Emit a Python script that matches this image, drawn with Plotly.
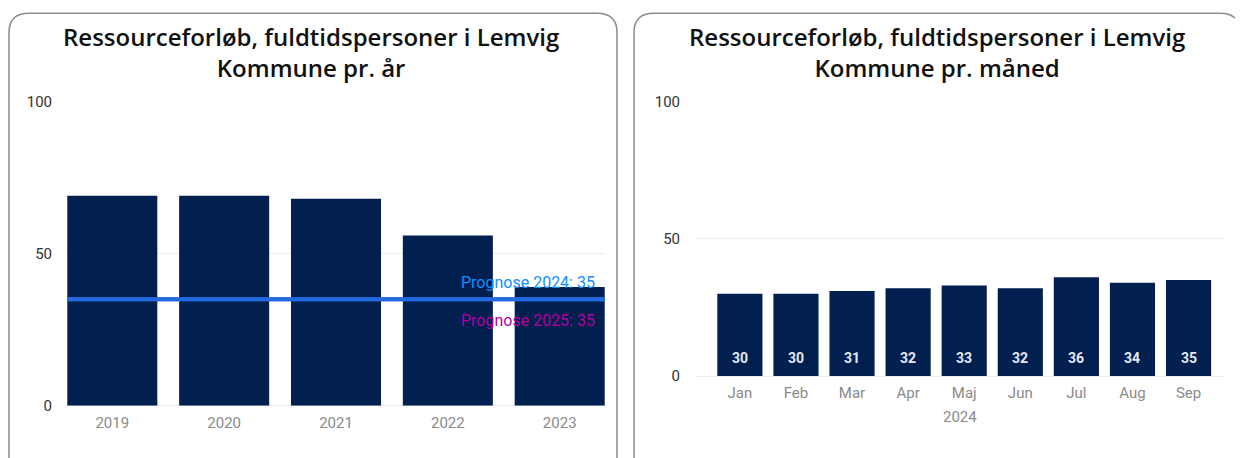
import plotly.graph_objects as go

# ---- data ----
years = ["2019", "2020", "2021", "2022", "2023"]
year_values = [69, 69, 68, 56, 39]
prognose_labels = ["Prognose 2024", "Prognose 2025"]
prognose_values = [35, 35]

months = ["Jan", "Feb", "Mar", "Apr", "Maj", "Jun", "Jul", "Aug", "Sep"]
month_values = [30, 30, 31, 32, 33, 32, 36, 34, 35]
month_year = "2024"

title_left = "Ressourceforløb, fuldtidspersoner i Lemvig<br>Kommune pr. år"
title_right = "Ressourceforløb, fuldtidspersoner i Lemvig<br>Kommune pr. måned"
y_ticks = [0, 50, 100]

# the page has an 8px body margin; map reference screen pixels to paper coords
OFF = 8
W, H = 1243 - OFF, 458 - OFF
def px(x):
    return (x - OFF) / W
def py(y):
    return 1 - (y - OFF) / H

BAR = "#012050"
FONT = "Roboto"
TFONT = "Open Sans"

fig = go.Figure()

for xa, ya, cats, vals in [("x", "y", years, year_values),
                           ("x2", "y2", months, month_values)]:
    fig.add_trace(go.Bar(
        x=cats, y=vals, xaxis=xa, yaxis=ya,
        marker=dict(color=BAR, line=dict(width=0)),
        hoverinfo="x+y", showlegend=False,
    ))
    for c, v in zip(cats, vals):
        fig.add_annotation(xref=xa, yref=ya, x=c, y=0, yshift=18,
                           text=str(v), showarrow=False,
                           xanchor="center", yanchor="middle",
                           font=dict(family=FONT, size=14, color="#e4e9f0",
                                     weight="bold"))

axis_common = dict(showline=False, zeroline=False, ticks="",
                   tickfont=dict(family=FONT, size=15, color="#8a8a8a"),
                   ticklabelstandoff=6)
yaxis_common = dict(showline=False, zeroline=True, zerolinecolor="#ececec",
                    zerolinewidth=1, showgrid=True, gridcolor="#ececec",
                    gridwidth=1, tickvals=y_ticks, ticks="",
                    tickfont=dict(family=FONT, size=15, color="#333333"),
                    ticklabelstandoff=14)

fig.update_layout(
    width=W, height=H,
    margin=dict(l=0, r=0, t=0, b=0),
    paper_bgcolor="white", plot_bgcolor="white",
    bargap=0.195,
    font=dict(family=FONT),
    xaxis=dict(domain=[px(67), px(605)], anchor="y", range=[-0.405, 4.405],
               type="category", **axis_common),
    yaxis=dict(domain=[py(413), py(96)], anchor="x", range=[0, 100],
               **yaxis_common),
    xaxis2=dict(domain=[px(695), px(1225)], anchor="y2", range=[-0.8, 8.65],
                type="category", **axis_common),
    yaxis2=dict(domain=[py(382), py(96)], anchor="x2", range=[0, 100],
                **yaxis_common),
)

# panel borders (rounded rectangles, running off the bottom edge)
for (x0, x1) in [(9, 617), (634, 1240)]:
    r = 20
    fig.add_shape(type="path", xref="paper", yref="paper",
                  path=(f"M {px(x0)} {py(470)} L {px(x0)} {py(4 + r)} "
                        f"Q {px(x0)} {py(4)} {px(x0 + r)} {py(4)} "
                        f"L {px(x1 - r)} {py(4)} Q {px(x1)} {py(4)} {px(x1)} {py(4 + r)} "
                        f"L {px(x1)} {py(470)}"),
                  line=dict(color="#8c8c8c", width=1.5))

# prognose line(s)
for v in prognose_values:
    fig.add_shape(type="line", xref="x domain", yref="y", x0=0, x1=1,
                  y0=v, y1=v, line=dict(color="#2469e0", width=4), layer="above")

fig.add_annotation(xref="x domain", yref="y", x=0.985, y=prognose_values[0],
                   text=f"{prognose_labels[0]}: {prognose_values[0]}",
                   showarrow=False, xanchor="right", yanchor="middle", yshift=17,
                   font=dict(family=FONT, size=16, color="#118dff"))
fig.add_annotation(xref="x domain", yref="y", x=0.985, y=prognose_values[1],
                   text=f"{prognose_labels[1]}: {prognose_values[1]}",
                   showarrow=False, xanchor="right", yanchor="middle", yshift=-21,
                   font=dict(family=FONT, size=16, color="#b3009e"))

# titles
for cx, t in [((5 + 617) / 2, title_left), ((634 + 1240) / 2, title_right)]:
    fig.add_annotation(xref="paper", yref="paper", x=px(cx), y=py(44),
                       text=t, showarrow=False, xanchor="center", yanchor="middle",
                       font=dict(family=TFONT, size=24, color="#111111", weight=600))

# year label under months
fig.add_annotation(xref="x2 domain", yref="paper", x=0.5, y=py(425),
                   text=month_year, showarrow=False, xanchor="center",
                   yanchor="middle",
                   font=dict(family=FONT, size=15, color="#8a8a8a"))

fig.write_html("out.html")
